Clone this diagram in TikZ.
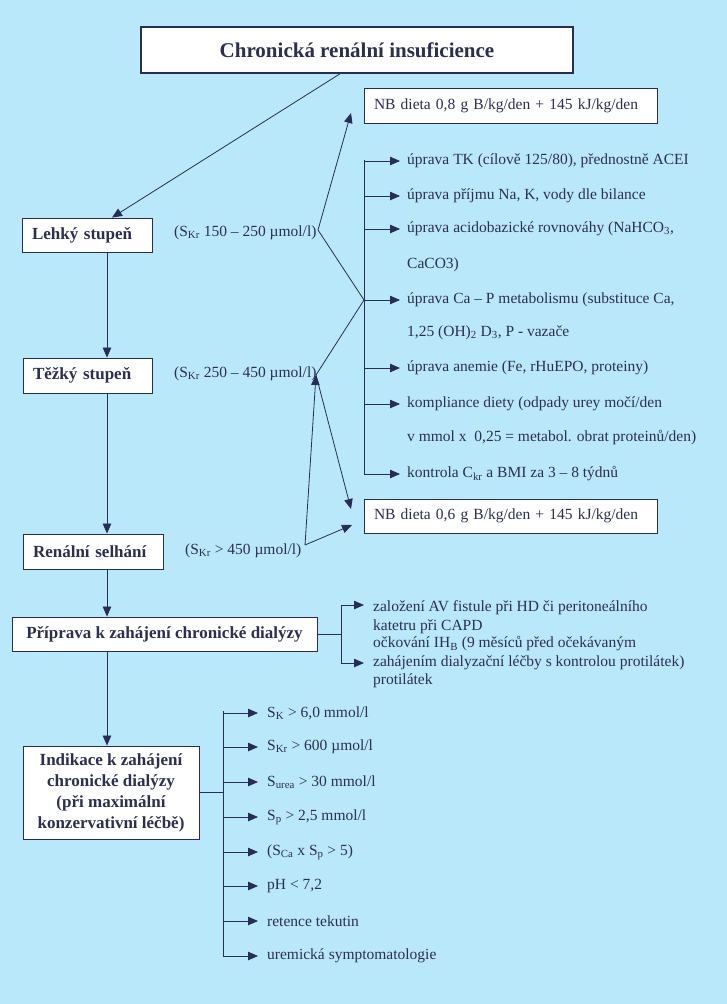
\documentclass[tikz,border=0pt]{standalone}
\usepackage{fontspec}
\setmainfont{Liberation Serif}
\usetikzlibrary{arrows.meta}
\definecolor{bg}{RGB}{186,232,251}
\definecolor{ink}{RGB}{44,46,82}
\definecolor{linec}{RGB}{40,44,86}
\begin{document}
\begin{tikzpicture}[x=1pt,y=-1pt,
  box/.style={draw=linec,fill=white,line width=0.9pt,text=ink,inner sep=0pt},
  bfont/.style={font=\fontsize{17}{20}\selectfont\bfseries},
  txt/.style={text=ink,inner sep=0pt,anchor=west,font=\fontsize{15.5}{18}\selectfont},
  arr/.style={draw=linec,line width=0.8pt,-{Triangle[length=10pt,width=8.5pt]}},
  ln/.style={draw=linec,line width=0.8pt}]
\fill[bg] (0,0) rectangle (727,1004);
\useasboundingbox (0,0) rectangle (727,1004);

% main boxes
\node[box,line width=1.6pt,minimum width=432pt,minimum height=46pt,font=\fontsize{21}{24}\selectfont\bfseries] (title) at (357,50) {Chronická renální insuficience};
\node[box,bfont,minimum width=130pt,minimum height=34pt,text width=110pt,align=left] (lehky) at (87,235) {Lehký stupeň};
\node[box,bfont,minimum width=129pt,minimum height=35pt,text width=109pt,align=left] (tezky) at (87.5,375.5) {Těžký stupeň};
\node[box,bfont,minimum width=140pt,minimum height=35pt,text width=120pt,align=left] (renal) at (93,551.5) {Renální selhání};
\node[box,bfont,minimum width=305pt,minimum height=34pt] (priprava) at (164.5,634) {Příprava k zahájení chronické dialýzy};
\node[box,minimum width=176pt,minimum height=93pt,align=center,font=\fontsize{17}{21}\selectfont\bfseries] (indikace) at (111,792.5) {Indikace k zahájení\\chronické dialýzy\\(při maximální\\konzervativní léčbě)};

\node[box,font=\fontsize{15.5}{18}\selectfont,minimum width=293pt,minimum height=35pt,text width=273pt,align=left] (nb1) at (510.5,105.5) {NB dieta 0,8 g B/kg/den + 145 kJ/kg/den};
\node[box,font=\fontsize{15.5}{18}\selectfont,minimum width=293pt,minimum height=34pt,text width=273pt,align=left] (nb2) at (510.5,516) {NB dieta 0,6 g B/kg/den + 145 kJ/kg/den};

% stage labels
\node[txt] (l1) at (174,233) {(S\textsubscript{Kr} 150 – 250 µmol/l)};
\node[txt] (l2) at (174,374) {(S\textsubscript{Kr} 250 – 450 µmol/l)};
\node[txt] (l3) at (185,551) {(S\textsubscript{Kr} > 450 µmol/l)};

% main spine
\draw[arr] ([xshift=-17pt]title.south) -- ([xshift=25pt]lehky.north);
\draw[arr] ([xshift=20pt]lehky.south) -- ([xshift=19.5pt]tezky.north);
\draw[arr] ([xshift=19.5pt]tezky.south) -- ([xshift=14pt]renal.north);
\draw[arr] ([xshift=14pt]renal.south) -- ([xshift=-57.5pt]priprava.north);
\draw[arr] ([xshift=-57.5pt]priprava.south) -- ([xshift=-4pt]indikace.north);

% right list
\coordinate (brtop) at (364,160);
\coordinate (brbot) at (364,475);
\coordinate (J) at (364,300);
\node[txt] (r1) at (407,161) {úprava TK (cílově 125/80), přednostně ACEI};
\node[txt] (r2) at (407,196) {úprava příjmu Na, K, vody dle bilance};
\node[txt] (r3) at (407,229) {úprava acidobazické rovnováhy (NaHCO\textsubscript{3},};
\node[txt] (r3b) at (407,265) {CaCO3)};
\node[txt] (r4) at (407,300) {úprava Ca – P metabolismu (substituce Ca,};
\node[txt] (r4b) at (407,333) {1,25 (OH)\textsubscript{2} D\textsubscript{3}, P - vazače};
\node[txt] (r5) at (407,368) {úprava anemie (Fe, rHuEPO, proteiny)};
\node[txt] (r6) at (407,404) {kompliance diety (odpady urey močí/den};
\node[txt] (r6b) at (407,438) {v mmol x \ 0,25 = metabol. obrat proteinů/den)};
\node[txt] (r7) at (407,474) {kontrola C\textsubscript{kr} a BMI za 3 – 8 týdnů};
\draw[ln] (brtop) -- (brbot);
\foreach \i in {1,...,7} {
  \draw[arr] (brtop |- r\i.west) -- ([xshift=-7pt]r\i.west);
}

% label connectors
\coordinate (v1) at (318,230);
\coordinate (v2) at (316,375);
\coordinate (v3) at (305,545);
\coordinate (t1) at (351,113);
\coordinate (t2) at (351,509);
\coordinate (t3) at (352,525);
\draw[arr] (v1) -- (t1);
\draw[ln] (v1) -- (J) -- (v2);
\draw[arr] (v3) -- (v2);
\draw[arr] (v2) -- (t2);
\draw[arr] (v3) -- (t3);

% priprava branch
\coordinate (pb) at (341,634);
\coordinate (pa1) at (341,605);
\coordinate (pa2) at (341,663);
\node[txt] (p1) at (373,608) {založení AV fistule při HD či peritoneálního};
\node[txt] (p2) at (373,627) {katetru při CAPD};
\node[txt] (p3) at (373,644) {očkování IH\textsubscript{B} (9 měsíců před očekávaným};
\node[txt] (p4) at (373,663) {zahájením dialyzační léčby s kontrolou protilátek)};
\node[txt] (p5) at (373,681) {protilátek};
\draw[ln] (priprava.east |- pb) -- (pb);
\draw[ln] (pa1) -- (pa2);
\draw[arr] (pa1) -- ([xshift=-9pt]p1.west |- pa1);
\draw[arr] (pa2) -- ([xshift=-9pt]p4.west |- pa2);

% indikace branch
\coordinate (ib) at (223.5,792.5);
\coordinate (itop) at (223.5,711);
\coordinate (ibot) at (223.5,957);
\node[txt] (i1) at (267,713) {S\textsubscript{K} > 6,0 mmol/l};
\node[txt] (i2) at (267,747) {S\textsubscript{Kr} > 600 µmol/l};
\node[txt] (i3) at (267,782) {S\textsubscript{urea} > 30 mmol/l};
\node[txt] (i4) at (267,817) {S\textsubscript{p} > 2,5 mmol/l};
\node[txt] (i5) at (267,852) {(S\textsubscript{Ca} x S\textsubscript{p} > 5)};
\node[txt] (i6) at (267,886) {pH < 7,2};
\node[txt] (i7) at (267,921) {retence tekutin};
\node[txt] (i8) at (267,956) {uremická symptomatologie};
\draw[ln] (indikace.east) -- (ib);
\draw[ln] (itop) -- (ibot);
\foreach \i in {1,...,8} {
  \draw[arr] (itop |- i\i.west) -- ([xshift=-9pt]i\i.west);
}
\end{tikzpicture}
\end{document}
